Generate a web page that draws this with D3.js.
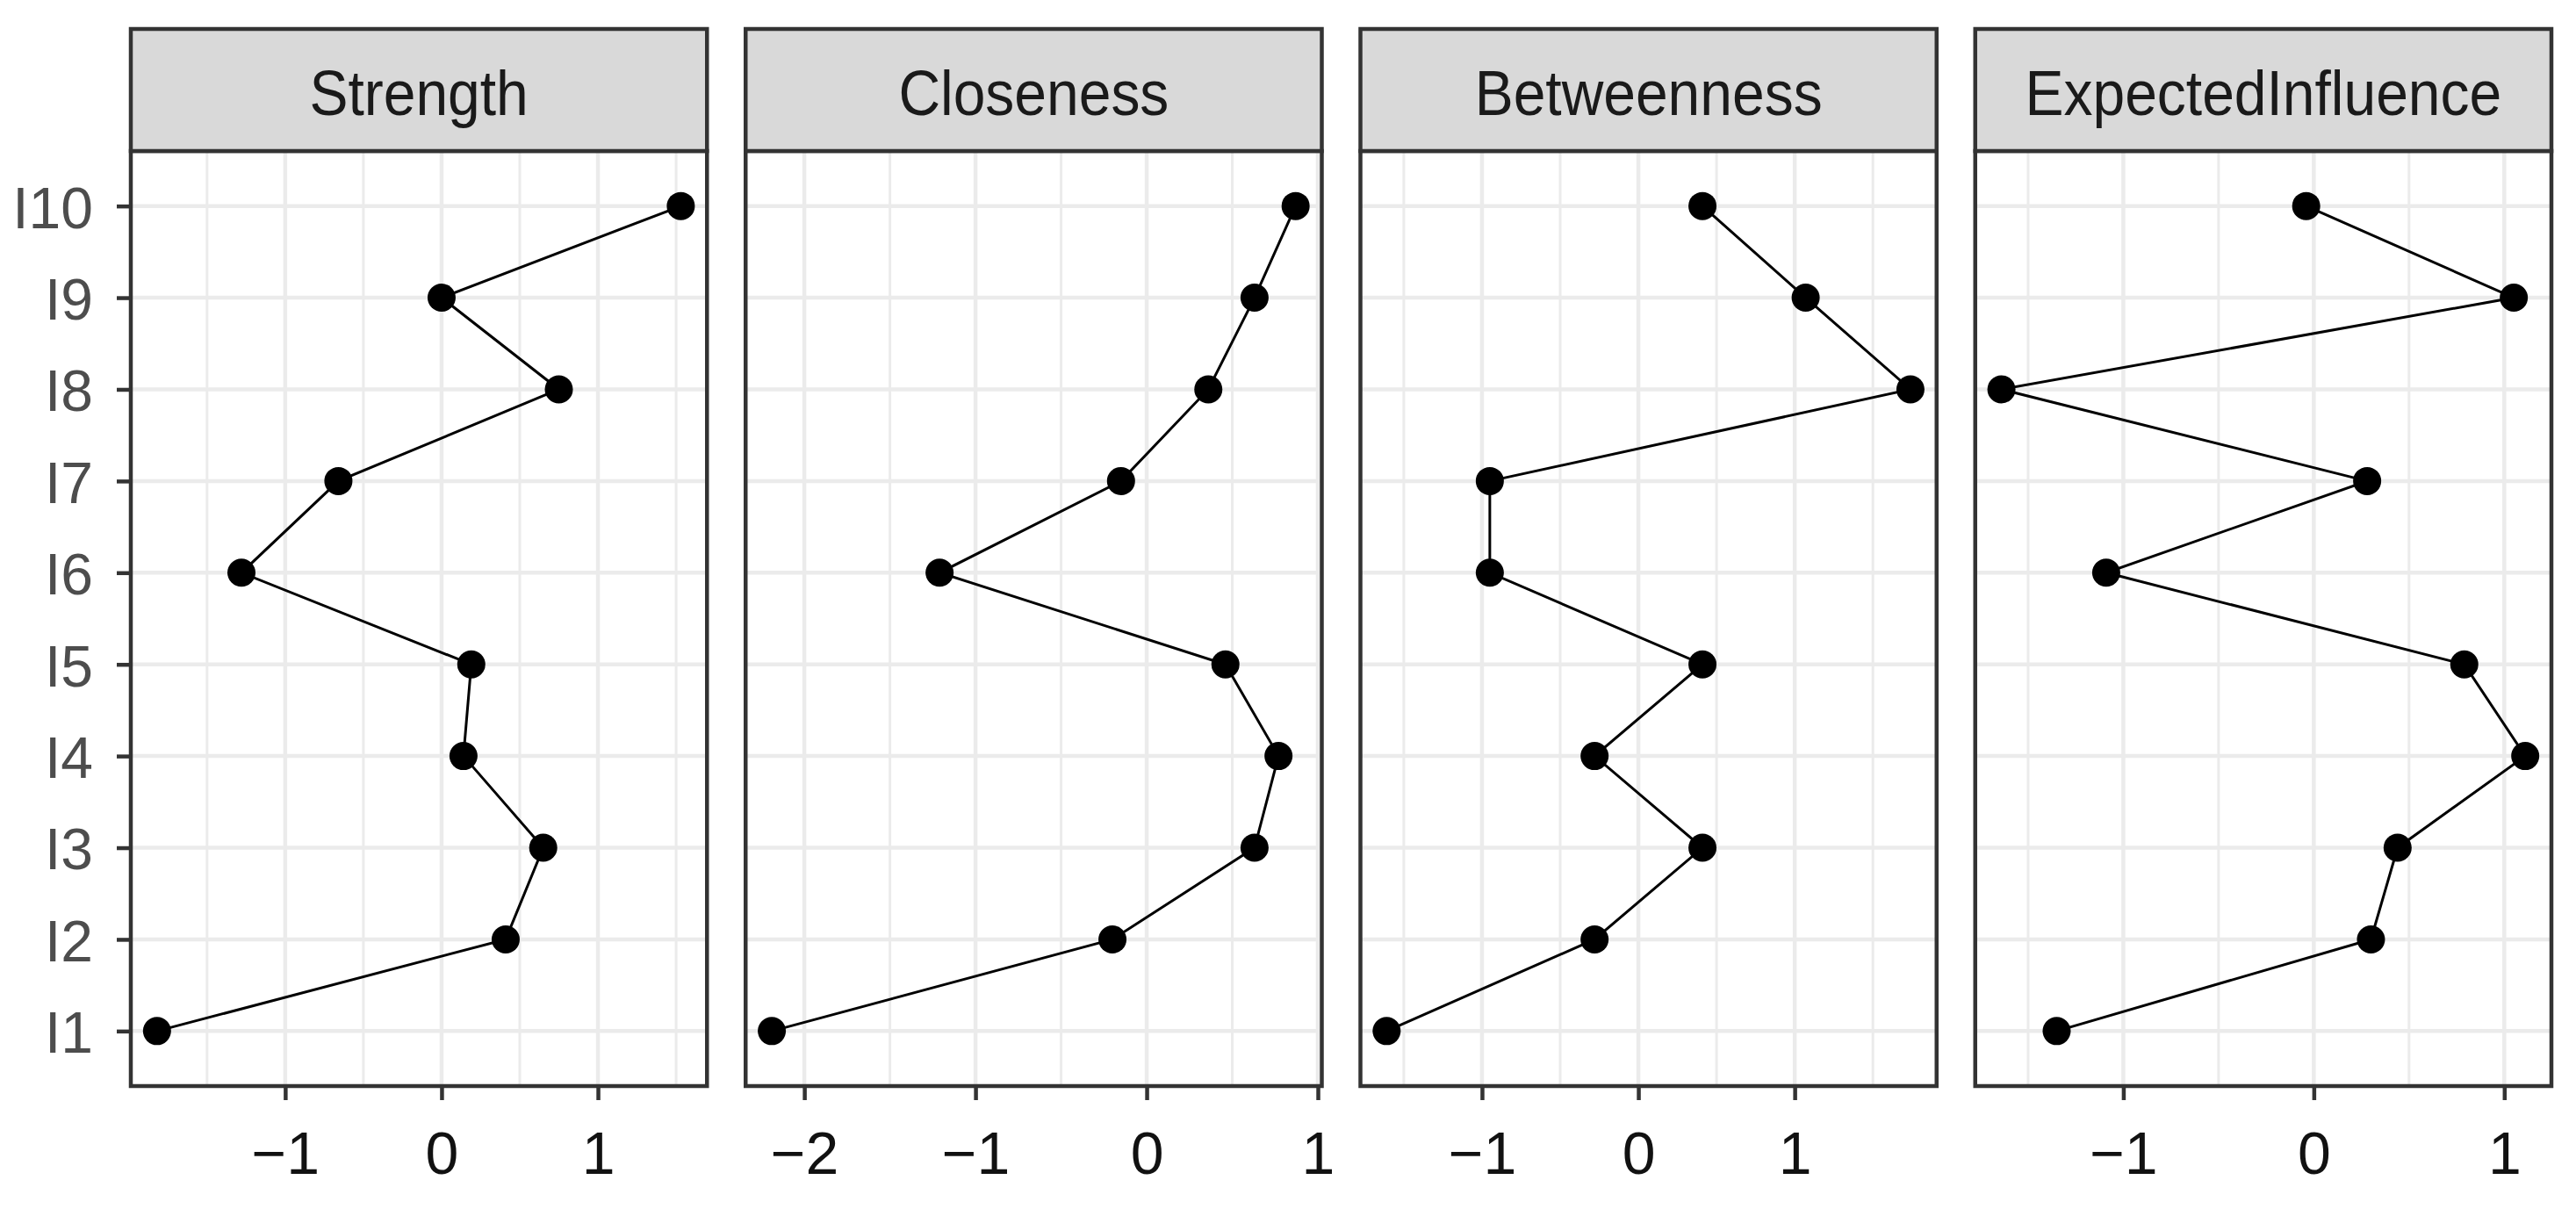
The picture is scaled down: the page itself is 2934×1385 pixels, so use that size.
<!DOCTYPE html>
<html>
<head>
<meta charset="utf-8">
<script src="https://cdn.jsdelivr.net/npm/d3@7"></script>
<style>
  html, body { margin: 0; padding: 0; background: #ffffff; }
  svg { display: block; }
</style>
</head>
<body>
<svg id="chart" width="2934" height="1385"></svg>
<script>
// ---- data ----
const categories = ["I1", "I2", "I3", "I4", "I5", "I6", "I7", "I8", "I9", "I10"];
const panelTitles = ["Strength", "Closeness", "Betweenness", "ExpectedInfluence"];
const strength          = [-1.82, 0.41, 0.65, 0.14, 0.19, -1.28, -0.66, 0.75, 0.00, 1.53];
const closeness         = [-2.19, -0.20, 0.63, 0.77, 0.46, -1.21, -0.15, 0.36, 0.63, 0.87];
const betweenness       = [-1.61, -0.28, 0.41, -0.28, 0.41, -0.95, -0.95, 1.74, 1.07, 0.41];
const expectedInfluence = [-1.35, 0.30, 0.44, 1.11, 0.79, -1.09, 0.28, -1.64, 1.05, -0.04];
const strengthTicks     = [-1, 0, 1];
const closenessTicks    = [-2, -1, 0, 1];
const betweennessTicks  = [-1, 0, 1];
const expectedTicks     = [-1, 0, 1];

const seriesList = [strength, closeness, betweenness, expectedInfluence];
const tickList = [strengthTicks, closenessTicks, betweennessTicks, expectedTicks];

// ---- layout ----
const FONT = "'Liberation Sans', Arial, Helvetica, sans-serif";
const left = 149, right = 2906, gap = 44;
const stripTop = 33, plotTop = 172, plotBottom = 1237;
const panelW = (right - left - gap * 3) / 4;
const dark = "#333333";

const svg = d3.select("#chart");

const y = d3.scalePoint()
  .domain(categories)
  .range([plotBottom, plotTop])
  .padding(0.6);

seriesList.forEach((vals, i) => {
  const x0 = left + i * (panelW + gap);
  const ext = d3.extent(vals);
  const pad = (ext[1] - ext[0]) * 0.05;
  const x = d3.scaleLinear().domain([ext[0] - pad, ext[1] + pad]).range([x0, x0 + panelW]);
  const majors = tickList[i];
  const step = majors[1] - majors[0];
  const ext2 = [majors[0] - step].concat(majors, [majors[majors.length - 1] + step]);
  const minors = d3.pairs(ext2).map(([a, b]) => (a + b) / 2)
    .filter(v => v > x.domain()[0] && v < x.domain()[1]);

  const g = svg.append("g");

  g.append("rect").attr("x", x0).attr("y", plotTop).attr("width", panelW)
    .attr("height", plotBottom - plotTop).attr("fill", "#ffffff");

  g.selectAll(".minor").data(minors).join("line")
    .attr("x1", d => x(d)).attr("x2", d => x(d))
    .attr("y1", plotTop).attr("y2", plotBottom)
    .attr("stroke", "#EBEBEB").attr("stroke-width", 3);
  g.selectAll(".major").data(majors).join("line")
    .attr("x1", d => x(d)).attr("x2", d => x(d))
    .attr("y1", plotTop).attr("y2", plotBottom)
    .attr("stroke", "#EBEBEB").attr("stroke-width", 4.5);
  g.selectAll(".hgrid").data(categories).join("line")
    .attr("x1", x0).attr("x2", x0 + panelW)
    .attr("y1", d => y(d)).attr("y2", d => y(d))
    .attr("stroke", "#EBEBEB").attr("stroke-width", 4.5);

  const pts = categories.map((c, k) => ({ c, v: vals[k] }));
  g.append("path").datum(pts)
    .attr("d", d3.line().x(d => x(d.v)).y(d => y(d.c)))
    .attr("fill", "none").attr("stroke", "#000").attr("stroke-width", 3);
  g.selectAll(".pt").data(pts).join("circle")
    .attr("cx", d => x(d.v)).attr("cy", d => y(d.c)).attr("r", 16)
    .attr("fill", "#000");

  g.append("rect").attr("x", x0).attr("y", plotTop).attr("width", panelW)
    .attr("height", plotBottom - plotTop).attr("fill", "none")
    .attr("stroke", dark).attr("stroke-width", 4.5);

  g.append("rect").attr("x", x0).attr("y", stripTop).attr("width", panelW)
    .attr("height", plotTop - stripTop).attr("fill", "#D9D9D9")
    .attr("stroke", dark).attr("stroke-width", 4.5);
  g.append("text")
    .attr("transform", `translate(${x0 + panelW / 2},131) scale(0.97,1.06)`)
    .attr("text-anchor", "middle").attr("font-family", FONT)
    .attr("font-size", 68).attr("fill", "#1A1A1A").text(panelTitles[i]);

  const xa = svg.append("g").attr("transform", `translate(0,${plotBottom})`)
    .call(d3.axisBottom(x).tickValues(majors).tickFormat(d3.format("d"))
      .tickSize(16).tickSizeOuter(0));
  xa.select(".domain").remove();
  xa.selectAll(".tick line").attr("stroke", dark).attr("stroke-width", 4.5);
  xa.selectAll(".tick text").attr("y", 100).attr("dy", 0)
    .attr("font-family", FONT).attr("font-size", 68).attr("fill", "#111111");

  if (i === 0) {
    const ya = svg.append("g").attr("transform", `translate(${x0},0)`)
      .call(d3.axisLeft(y).tickSize(16).tickPadding(27).tickSizeOuter(0));
    ya.select(".domain").remove();
    ya.selectAll(".tick line").attr("stroke", dark).attr("stroke-width", 4.5);
    ya.selectAll(".tick text").attr("dy", "0.37em")
      .attr("font-family", FONT).attr("font-size", 66).attr("fill", "#4D4D4D");
  }
});
</script>
</body>
</html>
